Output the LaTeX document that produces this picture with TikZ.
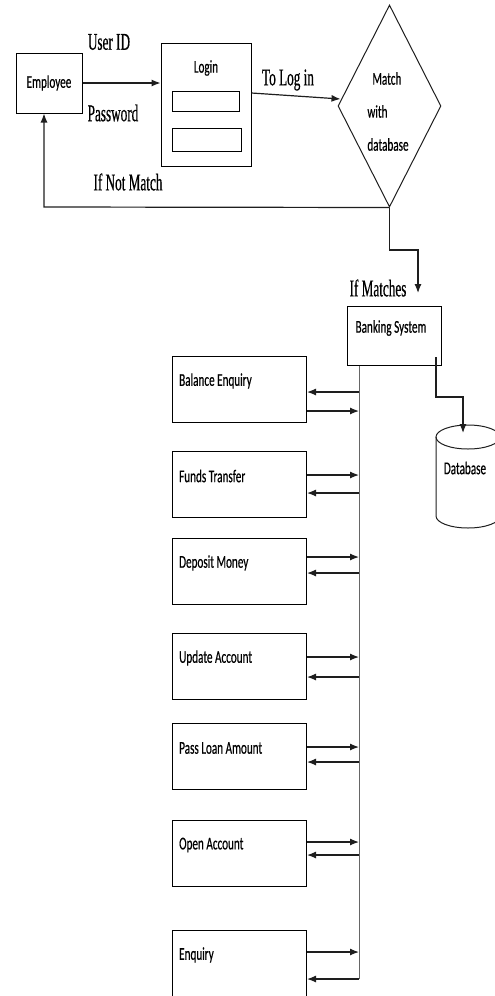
\documentclass[tikz,border=0pt]{standalone}
\usepackage{fontspec}
\usetikzlibrary{positioning,arrows.meta,shapes.geometric,calc}
\newfontfamily\boxfont[FakeStretch=0.62,FakeBold=0.4]{Carlito}
\newfontfamily\edgefont[FakeStretch=0.55,FakeBold=0.5]{Liberation Serif}
\definecolor{cline}{HTML}{1e1e1e}
\definecolor{cbus}{HTML}{666666}

\begin{document}
\begin{tikzpicture}[x=1pt, y=-1pt,
    every node/.style={inner sep=0pt},
    blk/.style={draw, line width=1pt},
    btxt/.style={font=\boxfont\fontsize{18}{21}\selectfont},
    etxt/.style={font=\edgefont\fontsize{24}{26}\selectfont},
    flow/.style={draw=cline, line width=1.2pt, -{Latex[length=9pt,width=7pt]}},
    wire/.style={draw=cline, line width=1pt}]
  \useasboundingbox (0,0) rectangle (495,996);
  % login part
  \node[blk, btxt, minimum width=66pt, minimum height=60pt] (emp) at (49,83) {Employee};
  \node[blk, minimum width=90pt, minimum height=123pt] (login) at (206,104.5) {};
  \node[btxt] (logintxt) at (206,68) {Login};
  \node[blk, minimum width=67pt, minimum height=20pt] (uid) at (205.5,101) {};
  \node[blk, minimum width=69pt, minimum height=23pt] (pwd) at (206.5,139.5) {};
  \node[wire, diamond, minimum width=103pt, minimum height=202pt] (match) at (389.5,106) {};
  \node[align=left, font=\boxfont\fontsize{18}{33}\selectfont] (matchtxt) at (388,111.5) {\hspace{5pt}Match\\with\\database};
  \draw[flow] (emp.east) -- (emp.east -| login.west);
  \node[etxt] (uidlbl) at (109,42) {User ID};
  \node[etxt] (pwdlbl) at (113,113) {Password};
  \draw[flow] ([yshift=11.5pt]login.east) -- ([xshift=3pt,yshift=7pt]match.west);
  \node[etxt] (loglbl) at (288,80) {To Log in};
  % no match: back to employee
  \coordinate (nmcorner) at (44,207);
  \draw[flow] (match.south) -- (nmcorner) -- (nmcorner |- emp.south);
  \node[etxt] (nmlbl) at (128,182) {If Not Match};
  % match: on to the banking system
  \coordinate (mbend) at (418,250);
  \coordinate (mtip) at (418,293);
  \draw[flow] (match.south) |- (mbend) -- (mtip);
  \node[etxt] (mlbl) at (378,288) {If Matches};
  \node[blk, minimum width=94pt, minimum height=59pt] (bank) at (394,335.5) {};
  \node[btxt] (banktxt) at (391,328) {Banking System};
  % database cylinder
  \draw[wire] (436,437) -- (436,516) arc[start angle=180, end angle=0, x radius=32, y radius=12] -- (500,437);
  \draw[wire] (468,437) ellipse [x radius=32, y radius=12];
  \node[btxt] (db) at (465,468) {Database};
  \coordinate (dbsrc) at (436,357);
  \coordinate (dbbend) at (463,397);
  \coordinate (dbtip) at (463,433);
  \draw[flow] (dbsrc) |- (dbbend) -- (dbtip);
  % bus and services
  \coordinate (busend) at (359,979);
  \draw[wire, draw=cbus] (bank.south -| busend) -- (busend);
  \foreach \nm/\txt/\top/\yin/\yout in {
      bal/Balance Enquiry/356/411/392,
      fund/Funds Transfer/451/475/493,
      dep/Deposit Money/538/557/573,
      upd/Update Account/633/657/677,
      loan/Pass Loan Amount/723/747/762,
      open/Open Account/820/842/855,
      enq/Enquiry/930/952/979} {
    \node[blk, minimum width=134pt, minimum height=66pt, anchor=north west] (\nm) at (172,\top) {};
    \node[btxt, anchor=west] (\nm-txt) at ([xshift=7pt,yshift=-25pt]\nm.north west) {\txt};
    \coordinate (\nm-in) at (359,\yin);
    \coordinate (\nm-out) at (359,\yout);
    \draw[flow] (\nm.east |- \nm-in) -- (\nm-in);
    \draw[flow] (\nm-out) -- (\nm.east |- \nm-out);
  }
\end{tikzpicture}
\end{document}
